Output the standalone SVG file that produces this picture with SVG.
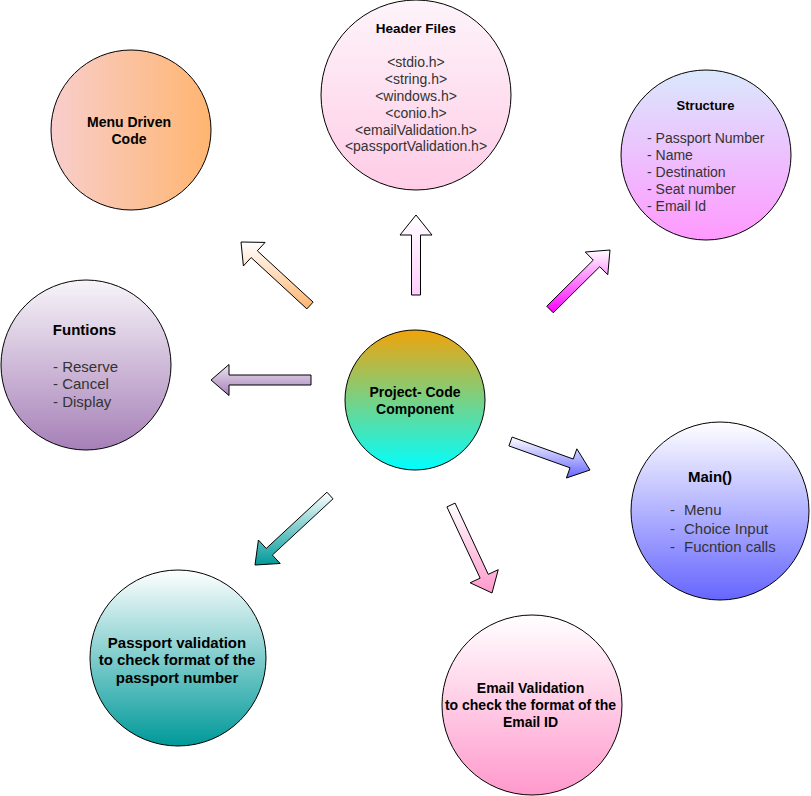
<svg xmlns="http://www.w3.org/2000/svg" width="811" height="796" viewBox="0 0 811 796">
<defs>
<linearGradient id="gHeader" x1="0" y1="0" x2="0" y2="1"><stop offset="0" stop-color="#fdf4fa"/><stop offset="1" stop-color="#ffcce6"/></linearGradient>
<linearGradient id="gHeaderA" x1="0" y1="0" x2="0" y2="1"><stop offset="0" stop-color="#ffffff"/><stop offset="1" stop-color="#ffccff"/></linearGradient>
<linearGradient id="gMenu" x1="0" y1="0" x2="1" y2="0"><stop offset="0" stop-color="#f8cecc"/><stop offset="1" stop-color="#ffb570"/></linearGradient>
<linearGradient id="gMenuA" x1="0" y1="0" x2="0" y2="1"><stop offset="0" stop-color="#ffffff"/><stop offset="1" stop-color="#ffb570"/></linearGradient>
<linearGradient id="gStruct" x1="0" y1="0" x2="0" y2="1"><stop offset="0" stop-color="#dae8fc"/><stop offset="1" stop-color="#ff99ff"/></linearGradient>
<linearGradient id="gStructA" x1="0" y1="0" x2="0" y2="1"><stop offset="0" stop-color="#ffffff"/><stop offset="1" stop-color="#ff00ff"/></linearGradient>
<linearGradient id="gFunc" x1="0" y1="0" x2="0" y2="1"><stop offset="0" stop-color="#f7f4f9"/><stop offset="1" stop-color="#a680b8"/></linearGradient>
<linearGradient id="gFuncA" x1="0" y1="0" x2="0" y2="1"><stop offset="0" stop-color="#ece4f0"/><stop offset="1" stop-color="#a680b8"/></linearGradient>
<linearGradient id="gProj" x1="0" y1="0" x2="0" y2="1"><stop offset="0" stop-color="#f0a30a"/><stop offset="1" stop-color="#00ffff"/></linearGradient>
<linearGradient id="gMain" x1="0" y1="0" x2="0" y2="1"><stop offset="0" stop-color="#ffffff"/><stop offset="1" stop-color="#6666ff"/></linearGradient>
<linearGradient id="gPass" x1="0" y1="0" x2="0" y2="1"><stop offset="0" stop-color="#ffffff"/><stop offset="1" stop-color="#009999"/></linearGradient>
<linearGradient id="gEmail" x1="0" y1="0" x2="0" y2="1"><stop offset="0" stop-color="#ffffff"/><stop offset="1" stop-color="#ff99cc"/></linearGradient>
</defs>
<style>
circle { stroke: #000000; stroke-width: 1; }
.arrow polygon { stroke: #000000; stroke-width: 1; stroke-linejoin: miter; }
text { font-family: "Liberation Sans", Arial, Helvetica, sans-serif; }
.b { font-weight: bold; fill: #000000; }
.r { fill: #333333; }
.c { text-anchor: middle; }
</style>
<rect width="811" height="796" fill="#ffffff"/>

<g id="connectors" class="arrow">
  <polygon fill="url(#gHeaderA)" points="411.5,295 411.5,235 400,235 416,215 432,235 420.5,235 420.5,295"/>
  <polygon fill="url(#gMenuA)" points="313.11,302.12 257.35,250.81 265.07,242.42 241,242 243.41,265.96 251.13,257.57 306.89,308.88"/>
  <polygon fill="url(#gStructA)" points="553.24,312.77 599.75,266.65 607.77,274.74 610,250 585.25,252.02 593.27,260.11 546.76,306.23"/>
  <polygon fill="url(#gFuncA)" points="311,375 229,375 229,364.5 211,380 229,395.5 229,385 311,385"/>
  <polygon fill="url(#gMain)" points="508.91,445.92 570.05,467.84 566.41,478.01 590,470 576.87,448.83 573.23,459 512.09,437.08"/>
  <polygon fill="url(#gPass)" points="326.94,492.2 266.24,548.45 258.42,540.01 255,565 280.18,563.49 272.36,555.05 333.06,498.8"/>
  <polygon fill="url(#gEmail)" points="446.92,506.9 480.11,578.13 470.14,582.78 492,593 498.24,569.68 488.27,574.33 455.08,503.1"/>
</g>

<g id="header-files">
  <circle cx="416" cy="95" r="95" fill="url(#gHeader)"/>
  <text class="b c" x="416" y="33" font-size="13.5">Header Files</text>
  <text class="r c" x="416" y="67" font-size="14">&lt;stdio.h&gt;</text>
  <text class="r c" x="416" y="83.5" font-size="14">&lt;string.h&gt;</text>
  <text class="r c" x="416" y="100.5" font-size="14">&lt;windows.h&gt;</text>
  <text class="r c" x="416" y="117.5" font-size="14">&lt;conio.h&gt;</text>
  <text class="r c" x="416" y="134.5" font-size="14">&lt;emailValidation.h&gt;</text>
  <text class="r c" x="416" y="151" font-size="14">&lt;passportValidation.h&gt;</text>
</g>

<g id="menu-driven-code">
  <circle cx="131" cy="130" r="80" fill="url(#gMenu)"/>
  <text class="b c" x="129" y="127" font-size="14">Menu Driven</text>
  <text class="b c" x="129" y="144" font-size="14">Code</text>
</g>

<g id="structure">
  <circle cx="706" cy="155" r="85" fill="url(#gStruct)"/>
  <text class="b c" x="705.5" y="110" font-size="13">Structure</text>
  <text class="r" x="647" y="143" font-size="14">- Passport Number</text>
  <text class="r" x="647" y="160" font-size="14">- Name</text>
  <text class="r" x="647" y="177" font-size="14">- Destination</text>
  <text class="r" x="647" y="194" font-size="14">- Seat number</text>
  <text class="r" x="647" y="211" font-size="14">- Email Id</text>
</g>

<g id="funtions">
  <circle cx="86" cy="365" r="85" fill="url(#gFunc)"/>
  <text class="b c" x="84.5" y="335" font-size="15">Funtions</text>
  <text class="r" x="53" y="372" font-size="15">- Reserve</text>
  <text class="r" x="53" y="389" font-size="15">- Cancel</text>
  <text class="r" x="53" y="407" font-size="15">- Display</text>
</g>

<g id="project-code-component">
  <circle cx="415" cy="400" r="70" fill="url(#gProj)"/>
  <text class="b c" x="415" y="397" font-size="14">Project- Code</text>
  <text class="b c" x="415" y="414" font-size="14">Component</text>
</g>

<g id="main">
  <circle cx="720" cy="511" r="89" fill="url(#gMain)"/>
  <text class="b c" x="710" y="482" font-size="15">Main()</text>
  <text class="r" x="670" y="515" font-size="15">-</text>
  <text class="r" x="684" y="515" font-size="15">Menu</text>
  <text class="r" x="670" y="533.5" font-size="15">-</text>
  <text class="r" x="684" y="533.5" font-size="15">Choice Input</text>
  <text class="r" x="670" y="552" font-size="15">-</text>
  <text class="r" x="684" y="552" font-size="15">Fucntion calls</text>
</g>

<g id="passport-validation">
  <circle cx="178" cy="658" r="88" fill="url(#gPass)"/>
  <text class="b c" x="177" y="647.5" font-size="15">Passport validation</text>
  <text class="b c" x="177" y="664.5" font-size="15">to check format of the</text>
  <text class="b c" x="177" y="682.5" font-size="15">passport number</text>
</g>

<g id="email-validation">
  <circle cx="532" cy="705" r="90" fill="url(#gEmail)"/>
  <text class="b c" x="530.5" y="693" font-size="14">Email Validation</text>
  <text class="b c" x="530.5" y="710" font-size="14">to check the format of the</text>
  <text class="b c" x="530.5" y="727" font-size="14">Email ID</text>
</g>
</svg>
